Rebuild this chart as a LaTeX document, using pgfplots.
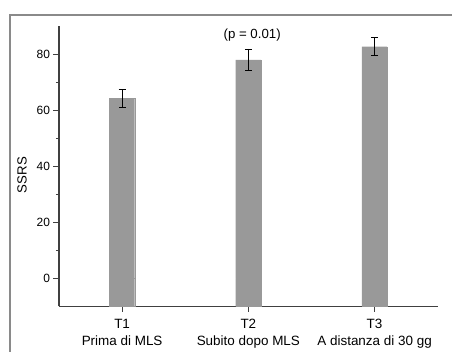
\documentclass[border=0pt]{standalone}
\usepackage{fontspec}
\setmainfont{Liberation Sans}
\usepackage{pgfplots}
\pgfplotsset{compat=1.18}
\definecolor{barfill}{HTML}{999999}
\definecolor{axcol}{HTML}{404040}
\definecolor{framecol}{HTML}{8A8A8A}
\begin{document}
\begin{tikzpicture}
\useasboundingbox (0,0) rectangle (452bp,352bp);
\draw[framecol, line width=1.3bp] (10bp,0) -- (10bp,337bp) -- (452bp,337bp);
\begin{axis}[
  at={(59bp,45.7bp)}, anchor=south west,
  scale only axis, width=378.7bp, height=280.3bp,
  xmin=0.5, xmax=3.5, ymin=-10, ymax=90,
  axis lines*=left,
  axis line style={axcol, line width=1.1bp},
  every tick/.style={axcol, line width=1bp},
  tick align=outside,
  major tick length=5.5bp, minor tick length=3bp,
  xtick={1,2,3},
  xticklabels={{T1\\Prima di MLS},{T2\\Subito dopo MLS},{T3\\A distanza di 30 gg}},
  xticklabel style={align=center, font=\fontsize{13.5}{16.7}\selectfont, yshift=-4bp},
  ytick={0,20,40,60,80},
  minor y tick num=1,
  yticklabel style={font=\fontsize{12}{14}\selectfont},
  /pgf/number format/assume math mode=true,
  ylabel={SSRS},
  ylabel style={at={(axis description cs:-0.0977,0.468)}, anchor=center, font=\fontsize{13.3}{15}\selectfont},
  clip=false,
]
\addplot[ybar, bar width=0.2, bar shift=0pt, fill=barfill, draw=barfill, line width=0.4bp] coordinates {(1,-10) (2,-10) (3,-10)};
\addplot[ybar, bar width=0.2, bar shift=0pt, fill=barfill, draw=barfill, line width=0.4bp,
  error bars/.cd, y dir=both, y explicit,
  error bar style={black, line width=0.7bp},
  error mark options={black, mark size=3.5bp, line width=0.7bp, rotate=90}]
  coordinates {(1,64.3) +- (0,3.2) (2,77.9) +- (0,3.9) (3,82.6) +- (0,3.2)};
\node[font=\fontsize{13.3}{15}\selectfont] at (axis cs:2.03,86.6) {(p = 0.01)};
\end{axis}
\end{tikzpicture}
\end{document}
